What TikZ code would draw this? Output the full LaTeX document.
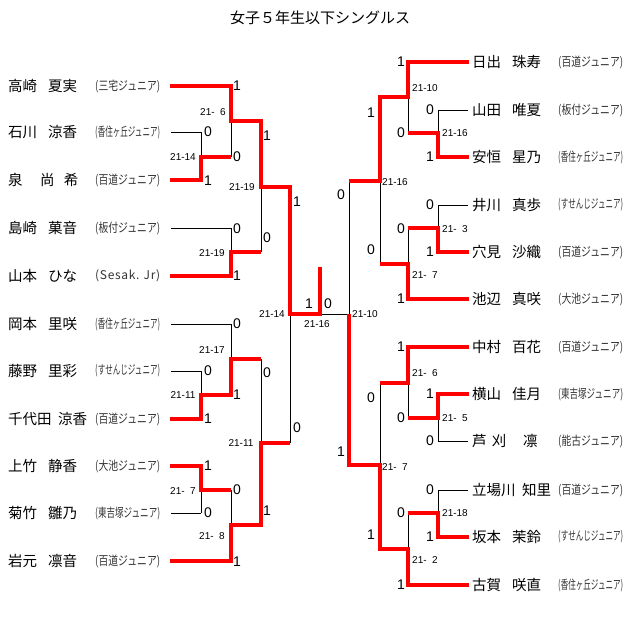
\documentclass[tikz,border=0pt]{standalone}
\usepackage{fontspec}
\usepackage{graphicx}
\setmainfont{Liberation Sans}
\newfontfamily\jp{Noto Sans CJK JP}
\newcommand\club[1]{\resizebox{65pt}{\height}{\jp\fontsize{12.5}{12.5}\selectfont#1}}
\newcommand\sesak{\makebox[65pt][s]{\jp\fontsize{12}{12}\selectfont(\hfill S\hfill e\hfill s\hfill a\hfill k\hfill .\hfill\ \hfill J\hfill r\hfill)}}
\newcommand\fsp{\ \kern.278em}
\begin{document}
\begin{tikzpicture}[x=1pt,y=-1pt,
  thinline/.style={line width=1pt,black},
  win/.style={line width=3.6pt,red,line join=miter},
  score/.style={font=\fontsize{14}{14}\selectfont,inner sep=0pt},
  res/.style={font=\fontsize{10}{10}\selectfont,inner sep=0pt},
  nm/.style={font=\jp\fontsize{14.5}{15}\selectfont,anchor=west,inner sep=0pt},
  clb/.style={anchor=west,inner sep=0pt,text=black!80}]
\useasboundingbox (0,0) rectangle (640,637);
\node[font=\jp\fontsize{15}{16}\selectfont,inner sep=0pt] (title) at (320,18) {女子５年生以下シングルス};

% left players
\foreach \y/\s/\g/\gx/\c [count=\i] in {
  86/高崎/夏実/48/\club{(三宅ジュニア)},
  132/石川/涼香/48/\club{(香住ヶ丘ジュニア)},
  180/泉/尚 \hspace{6pt}希/40/\club{(百道ジュニア)},
  228/島崎/菓音/48/\club{(板付ジュニア)},
  276/山本/ひな/48/\sesak,
  324/岡本/里咲/48/\club{(香住ヶ丘ジュニア)},
  371/藤野/里彩/48/\club{(すせんじジュニア)},
  419/千代田/涼香/58/\club{(百道ジュニア)},
  466/上竹/静香/48/\club{(大池ジュニア)},
  513/菊竹/雛乃/48/\club{(東吉塚ジュニア)},
  561/岩元/凛音/48/\club{(百道ジュニア)}}
{
  \node[nm] (ls\i) at (8,\y) {\s};
  \node[nm] (lg\i) at (\gx,\y) {\g};
  \node[clb] (lc\i) at (95,\y) {\c};
}
% right players
\foreach \y/\s/\g/\gx/\c [count=\i] in {
  62/日出/珠寿/512/\club{(百道ジュニア)},
  110/山田/唯夏/512/\club{(板付ジュニア)},
  157/安恒/星乃/512/\club{(香住ヶ丘ジュニア)},
  205/井川/真歩/512/\club{(すせんじジュニア)},
  252/穴見/沙織/512/\club{(百道ジュニア)},
  299/池辺/真咲/512/\club{(大池ジュニア)},
  347/中村/百花/512/\club{(百道ジュニア)},
  394/横山/佳月/512/\club{(東吉塚ジュニア)},
  441/芦 \hspace{2pt}刈/凛/523/\club{(能古ジュニア)},
  490/立場川/知里/522/\club{(百道ジュニア)},
  537/坂本/茉鈴/512/\club{(すせんじジュニア)},
  585/古賀/咲直/512/\club{(香住ヶ丘ジュニア)}}
{
  \node[nm] (rs\i) at (472,\y) {\s};
  \node[nm] (rg\i) at (\gx,\y) {\g};
  \node[clb] (rc\i) at (558,\y) {\c};
}

% black bracket lines, left
\draw[thinline] (171,132)--(201,132) (171,180)--(201,180) (171,371)--(201,371)
  (171,419)--(201,419) (171,466)--(201,466) (171,513)--(201,513);
\draw[thinline] (171,86)--(231,86) (171,228)--(231,228) (171,276)--(231,276)
  (171,324)--(231,324) (171,561)--(231,561);
\draw[thinline] (201,132)--(201,180) (201,371)--(201,419) (201,466)--(201,513);
\draw[thinline] (201,157)--(231,157) (201,395)--(231,395) (201,490)--(231,490);
\draw[thinline] (231,86)--(231,157) (231,228)--(231,276) (231,324)--(231,395) (231,490)--(231,561);
\draw[thinline] (231,121)--(261,121) (231,252)--(261,252) (231,359)--(261,359) (231,525)--(261,525);
\draw[thinline] (261,121)--(261,252) (261,359)--(261,525);
\draw[thinline] (261,187)--(290,187) (261,443)--(290,443);
\draw[thinline] (290,187)--(290,443);
\draw[thinline] (290,314)--(349,314);
% black bracket lines, right
\draw[thinline] (349,181)--(349,465);
\draw[thinline] (349,181)--(380,181) (349,465)--(380,465);
\draw[thinline] (380,97)--(380,264) (380,383)--(380,549);
\draw[thinline] (380,97)--(408,97) (380,264)--(408,264) (380,383)--(408,383) (380,549)--(408,549);
\draw[thinline] (408,62)--(408,133) (408,228)--(408,299) (408,347)--(408,418) (408,513)--(408,585);
\draw[thinline] (408,133)--(438,133) (408,228)--(438,228) (408,418)--(438,418) (408,513)--(438,513);
\draw[thinline] (438,110)--(438,157) (438,205)--(438,252) (438,394)--(438,441) (438,490)--(438,537);
\draw[thinline] (438,110)--(468,110) (438,157)--(468,157) (438,205)--(468,205) (438,252)--(468,252)
  (438,394)--(468,394) (438,441)--(468,441) (438,490)--(468,490) (438,537)--(468,537);
\draw[thinline] (408,62)--(468,62) (408,299)--(468,299) (408,347)--(468,347) (408,585)--(468,585);

% winners' paths
\draw[win] (170,86)--(231,86)--(231,121)--(261,121)--(261,187)--(290,187)--(290,314)--(320,314)--(320,267);
\draw[win] (170,180)--(201,180)--(201,157)--(231,157);
\draw[win] (170,276)--(231,276)--(231,252)--(261,252);
\draw[win] (170,419)--(201,419)--(201,395)--(231,395)--(231,359)--(261,359);
\draw[win] (170,466)--(201,466)--(201,490)--(231,490);
\draw[win] (170,561)--(231,561)--(231,525)--(261,525)--(261,443)--(290,443);
\draw[win] (469,62)--(408,62)--(408,97)--(380,97)--(380,181)--(349,181);
\draw[win] (469,157)--(438,157)--(438,133)--(408,133);
\draw[win] (469,252)--(438,252)--(438,228)--(408,228);
\draw[win] (469,299)--(408,299)--(408,264)--(380,264);
\draw[win] (469,347)--(408,347)--(408,383)--(380,383);
\draw[win] (469,394)--(438,394)--(438,418)--(408,418);
\draw[win] (469,537)--(438,537)--(438,513)--(408,513);
\draw[win] (469,585)--(408,585)--(408,549)--(380,549)--(380,465)--(349,465)--(349,314);

% game scores
\foreach \x/\y/\d [count=\i] in {
  208/132/0, 208/181/1, 208/371/0, 208/419/1, 208/466/1, 208/513/0,
  237/86/1, 237/157/0, 237/229/0, 237/276/1, 237/324/0, 237/395/1, 237/490/0, 237/562/1,
  267/136/1, 267/238/0, 267/373/0, 267/511/1,
  297/202/1, 297/428/0, 309/304/1, 328/304/0,
  430/110/0, 430/157/1, 430/205/0, 430/252/1, 430/394/1, 430/441/0, 430/490/0, 430/537/1,
  401/62/1, 401/133/0, 401/229/0, 401/299/1, 401/347/1, 401/418/0, 401/513/0, 401/585/1,
  371/113/1, 371/250/0, 371/398/0, 371/535/1,
  341/195/0, 341/452/1}
  \node[score] (g\i) at (\x,\y) {\d};

% point results
\foreach \x/\y/\t [count=\i] in {
  213/112/21-\fsp 6, 183/157/21-14, 242/187/21-19, 212/253/21-19, 272/314/21-14,
  212/350/21-17, 183/395/21-11, 241/443/21-11, 183/491/21-\fsp 7, 212/536/21-\fsp 8,
  317/324/21-16,
  425/88/21-10, 455/133/21-16, 395/182/21-16, 455/229/21-\fsp 3, 425/275/21-\fsp 7,
  365/314/21-10, 425/373/21-\fsp 6, 455/418/21-\fsp 5, 395/467/21-\fsp 7,
  455/513/21-18, 425/560/21-\fsp 2}
  \node[res] (p\i) at (\x,\y) {\t};
\end{tikzpicture}
\end{document}
